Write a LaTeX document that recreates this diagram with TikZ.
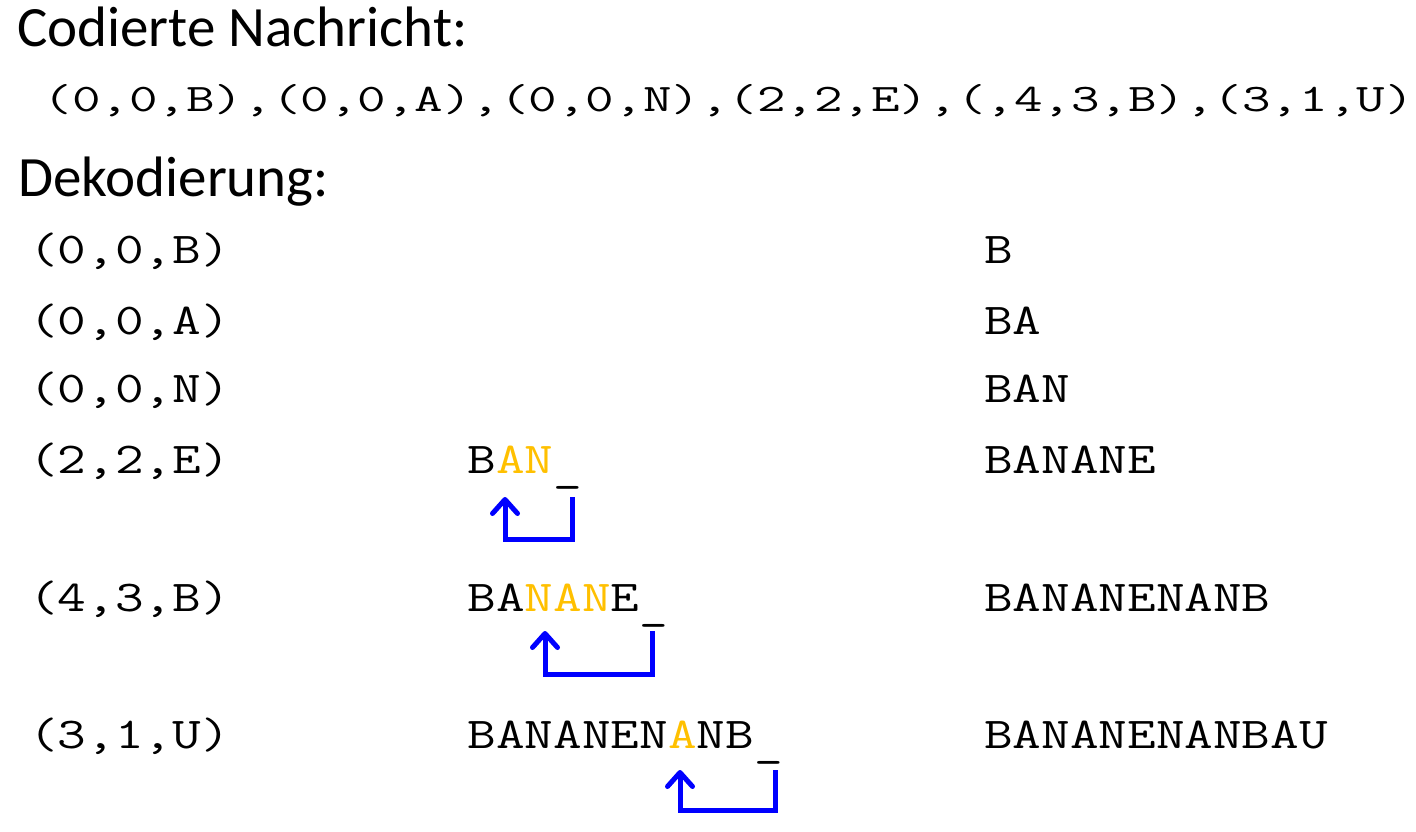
\documentclass[tikz,border=0pt]{standalone}
\usepackage{fontspec}
\usepackage{graphicx}
\usetikzlibrary{arrows.meta}
\newfontfamily\calibri{Carlito}
\definecolor{gold}{HTML}{FFC000}
\definecolor{pblue}{HTML}{0000FF}
\newcommand{\deco}[1]{\scalebox{1.264}[1]{\fontsize{44}{46}\selectfont\ttfamily #1}}
\newcommand{\codl}[1]{\scalebox{1.421}[1]{\fontsize{39}{41}\selectfont\ttfamily #1}}
\newcommand{\hl}[1]{\textcolor{gold}{#1}}
\newcommand{\us}{\raisebox{-7pt}{\_}}
\tikzset{
  head/.style={anchor=base west, inner sep=0pt, font=\calibri\fontsize{57}{59}\selectfont},
  txt/.style={anchor=base west, inner sep=0pt},
  back/.style={draw=pblue, line width=5pt, line join=miter,
    -{Straight Barb[length=14pt,width=25pt,line cap=round,line join=round]}}
}
\begin{document}
\begin{tikzpicture}[x=1pt,y=-1pt]
\useasboundingbox[fill=white] (0,0) rectangle (1416,832);
\node[head] (t1) at (17,46.7) {Codierte Nachricht:};
\node[txt] (code) at (43.5,112) {\codl{(0,0,B),(0,0,A),(0,0,N),(2,2,E),(,4,3,B),(3,1,U)}};
\node[head] (t2) at (18,196.7) {Dekodierung:};
% rows
\node[txt] (c1) at (29,263.5) {\deco{(0,0,B)}};
\node[txt] (r1) at (984,263.5) {\deco{B}};
\node[txt] (c2) at (29,334) {\deco{(0,0,A)}};
\node[txt] (r2) at (984,334) {\deco{BA}};
\node[txt] (c3) at (29,402.5) {\deco{(0,0,N)}};
\node[txt] (r3) at (984,402.5) {\deco{BAN}};
\node[txt] (c4) at (29,473) {\deco{(2,2,E)}};
\node[txt] (m4) at (467.5,473) {\deco{B\hl{AN}\us}};
\node[txt] (r4) at (984,473) {\deco{BANANE}};
\node[txt] (c5) at (29,611) {\deco{(4,3,B)}};
\node[txt] (m5) at (467.5,611) {\deco{BA\hl{NAN}E\us}};
\node[txt] (r5) at (984,611) {\deco{BANANENANB}};
\node[txt] (c6) at (29,748.5) {\deco{(3,1,U)}};
\node[txt] (m6) at (467.5,748.5) {\deco{BANANEN\hl{A}NB\us}};
\node[txt] (r6) at (984,748.5) {\deco{BANANENANBAU}};
% arrows
\coordinate (s4) at (572.5,497);
\coordinate (e4) at (505,497);
\coordinate (s5) at (652.5,631);
\coordinate (e5) at (545,631);
\coordinate (s6) at (775.5,770);
\coordinate (e6) at (680,770);
\draw[back] (s4) -- ++(0,42) -| (e4);
\draw[back] (s5) -- ++(0,43) -| (e5);
\draw[back] (s6) -- ++(0,40) -| (e6);
\end{tikzpicture}
\end{document}
